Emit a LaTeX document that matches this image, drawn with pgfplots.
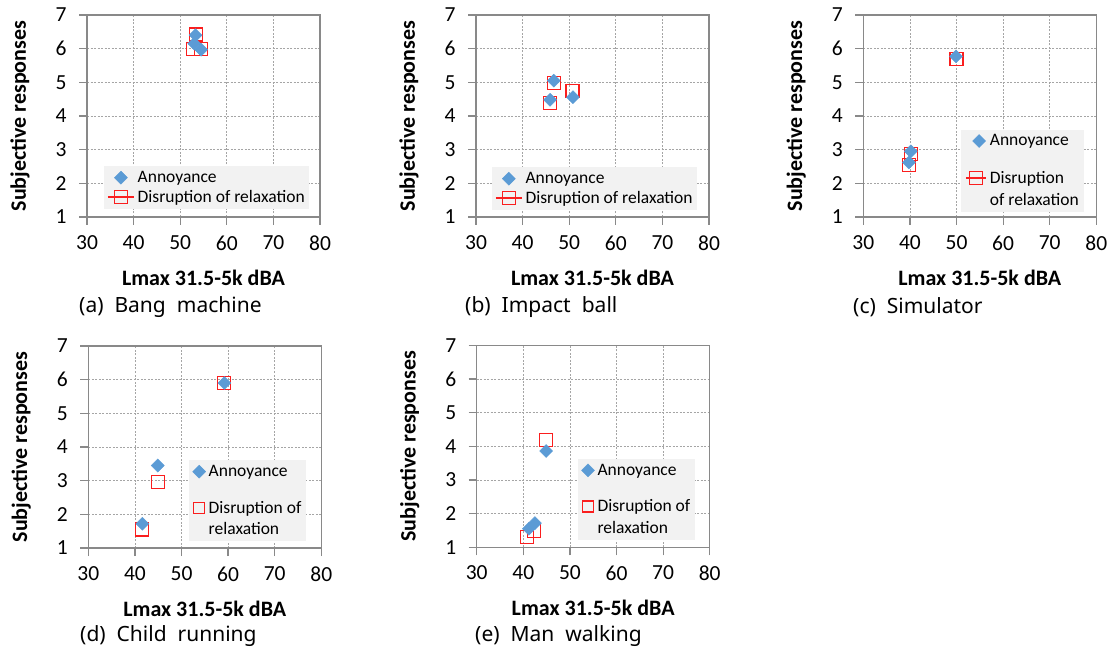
\documentclass[border=0pt]{standalone}
\usepackage{fontspec}
\setmainfont{Carlito}
\newfontfamily\capfont{Noto Sans}
\usepackage{pgfplots}
\pgfplotsset{compat=1.18}
\definecolor{annblue}{RGB}{91,155,213}
\definecolor{disred}{RGB}{250,30,30}
\definecolor{framegray}{RGB}{137,137,137}
\definecolor{gridgray}{RGB}{165,165,165}
\definecolor{legbg}{RGB}{242,242,242}
\pgfplotsset{
  panel/.style={
    scale only axis, width=233pt, height=202pt,
    xmin=30, xmax=80, ymin=1, ymax=7,
    xtick={30,40,...,80}, ytick={1,...,7},
    grid=major,
    major grid style={gridgray, dash pattern=on 2pt off 1.5pt, line width=0.7pt},
    axis line style={framegray, line width=1.3pt},
    tick style={framegray, line width=1.2pt},
    tick align=outside, major tick length=8pt, tick pos=left,
    /pgf/number format/assume math mode=true,
    tick label style={font=\fontsize{21.5}{25}\selectfont, black},
    yticklabel style={xshift=-9pt},
    xticklabel style={yshift=-7pt},
    xlabel={Lmax 31.5-5k dBA}, ylabel={Subjective responses},
    every axis x label/.style={at={(axis description cs:0.5,-0.302)}, anchor=center,
      font=\bfseries\fontsize{22}{26}\selectfont},
    every axis y label/.style={at={(axis description cs:-0.2876,0.5)}, rotate=90, anchor=center,
      font=\bfseries\fontsize{22}{26}\selectfont},
    legend cell align=left, reverse legend,
    legend style={fill=legbg, draw=none, font=\fontsize{17.5}{21.5}\selectfont,
      anchor=south west, inner xsep=3pt, inner ysep=2pt, column sep=2pt,
      cells={align=left}, nodes={inner xsep=1pt, inner ysep=3pt}},
  },
  ann/.style={only marks, mark=square*, mark size=4.6pt, color=annblue,
    mark options={rotate=45, draw=annblue, fill=annblue}},
  dis/.style={only marks, mark=square, mark size=6.5pt, color=disred,
    mark options={draw=disred, line width=1.1pt, fill=none}},
  linelegend/.style={legend image code/.code={%
    \draw[mark repeat=2,mark phase=2,##1] plot coordinates {(0pt,0pt)(13pt,0pt)(26pt,0pt)};}},
  linelegendup/.style={legend image code/.code={%
    \draw[mark repeat=2,mark phase=2,##1] plot coordinates {(0pt,10.75pt)(10pt,10.75pt)(20pt,10.75pt)};}},
  shortlegend/.style={legend image code/.code={%
    \draw[mark repeat=2,mark phase=2,##1] plot coordinates {(0pt,0pt)(8pt,0pt)(16pt,0pt)};}},
  shortlegendup/.style={legend image code/.code={%
    \draw[mark repeat=2,mark phase=2,##1] plot coordinates {(0pt,10.75pt)(8pt,10.75pt)(16pt,10.75pt)};}},
}
\begin{document}
\begin{tikzpicture}
\path[use as bounding box] (0,0) rectangle (1110pt,651pt);

% (a) Bang machine
\begin{axis}[panel, at={(87pt,434pt)}, anchor=south west, linelegend,
  legend style={at={(axis description cs:0.073,0.04)}}]
\addplot[dis, legend image post style={sharp plot, line width=1.5pt}] coordinates {(53.3,6.42) (52.8,6.00) (54.5,6.00)};
\addlegendentry{Disruption of relaxation}
\addplot[ann] coordinates {(53.3,6.40) (53.0,6.15) (54.5,5.97)};
\addlegendentry{Annoyance}
\end{axis}

% (b) Impact ball
\begin{axis}[panel, at={(476pt,434pt)}, anchor=south west, linelegend,
  legend style={at={(axis description cs:0.068,0.035)}}]
\addplot[dis, legend image post style={sharp plot, line width=1.5pt}] coordinates {(46.7,4.99) (45.9,4.38) (50.7,4.75)};
\addlegendentry{Disruption of relaxation}
\addplot[ann] coordinates {(46.7,5.05) (45.9,4.48) (50.8,4.56)};
\addlegendentry{Annoyance}
\end{axis}

% (c) Simulator
\begin{axis}[panel, at={(863.3pt,434pt)}, anchor=south west,
  legend style={at={(axis description cs:0.42,0.026)}, row sep=18pt, inner xsep=4pt}]
\addplot[dis, linelegendup, legend image post style={sharp plot, line width=1.5pt}] coordinates {(50.0,5.68) (40.2,2.88) (39.8,2.55)};
\addlegendentry{Disruption\\of relaxation}
\addplot[ann, linelegend] coordinates {(49.9,5.77) (40.2,2.95) (39.8,2.62)};
\addlegendentry{Annoyance}
\end{axis}

% (d) Child running
\begin{axis}[panel, at={(88.3pt,103pt)}, anchor=south west,
  legend style={at={(axis description cs:0.43,0.033)}, row sep=17pt, inner xsep=4pt}]
\addplot[dis, shortlegendup, legend image post style={mark size=5.5pt}] coordinates {(59.2,5.90) (44.9,2.96) (41.6,1.55)};
\addlegendentry{Disruption of\\relaxation}
\addplot[ann, shortlegend] coordinates {(59.2,5.90) (44.9,3.45) (41.6,1.72)};
\addlegendentry{Annoyance}
\end{axis}

% (e) Man walking
\begin{axis}[panel, at={(476.7pt,103.7pt)}, anchor=south west,
  legend style={at={(axis description cs:0.432,0.036)}, row sep=17pt, inner xsep=4pt}]
\addplot[dis, shortlegendup, legend image post style={mark size=5.5pt}] coordinates {(44.9,4.20) (42.3,1.48) (40.7,1.31)};
\addlegendentry{Disruption of\\relaxation}
\addplot[ann, shortlegend] coordinates {(44.9,3.86) (42.5,1.72) (41.2,1.55)};
\addlegendentry{Annoyance}
\end{axis}

\begin{scope}[every node/.style={anchor=west, inner sep=0pt, font=\capfont\fontsize{21}{25}\selectfont}]
\node at (79pt,344pt) {(a)\hspace{11pt}Bang\hspace{11pt}machine};
\node at (465pt,344pt) {(b)\hspace{11pt}Impact\hspace{11pt}ball};
\node at (853pt,344pt) {(c)\hspace{11pt}Simulator};
\node at (80pt,14.5pt) {(d)\hspace{11pt}Child\hspace{11pt}running};
\node at (475pt,14.5pt) {(e)\hspace{11pt}Man\hspace{11pt}walking};
\end{scope}
\end{tikzpicture}
\end{document}
